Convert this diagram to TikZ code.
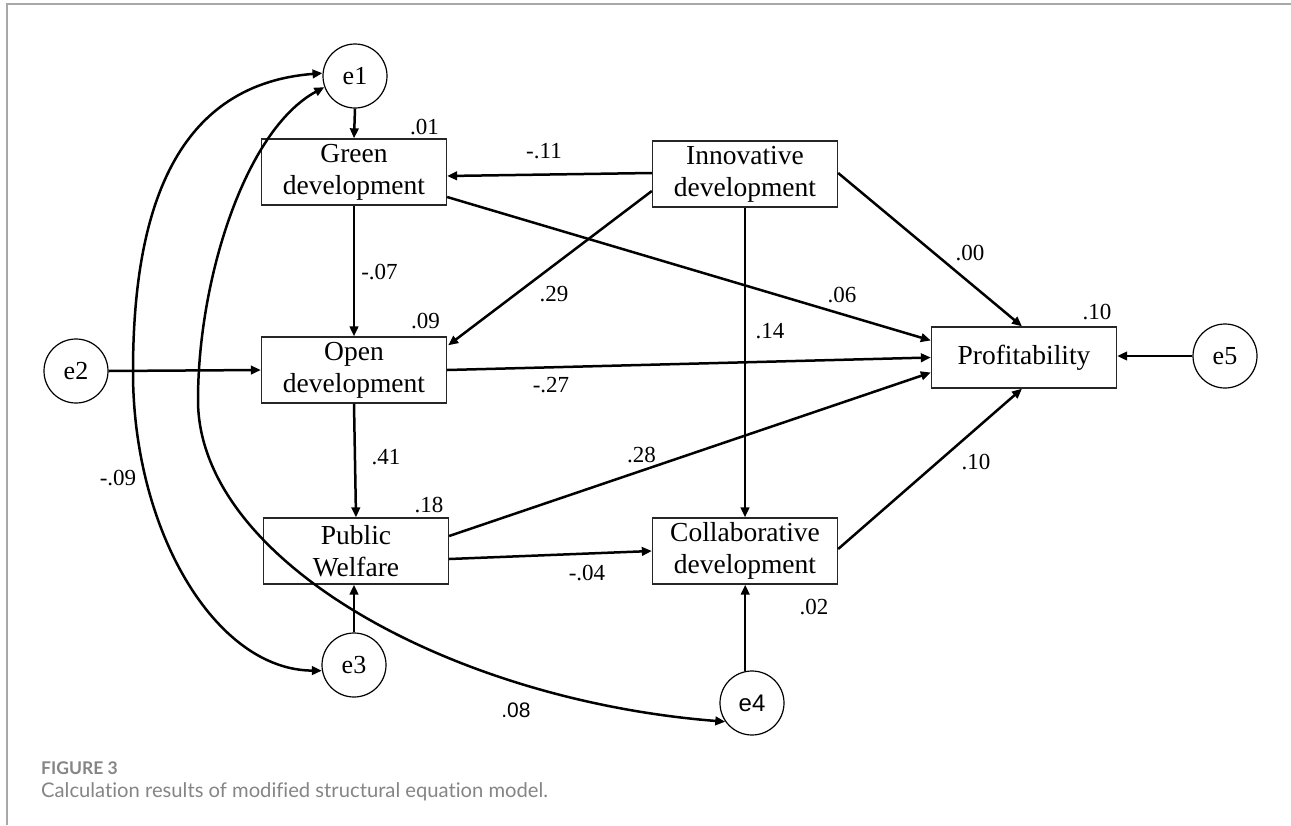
\documentclass[tikz,border=0pt]{standalone}
\usepackage{fontspec}
\setmainfont{Liberation Serif}
\newfontfamily\arialf{Liberation Sans}
\newfontfamily\capf[Ligatures={NoCommon}]{Lato}
\usetikzlibrary{arrows.meta}
\definecolor{capgray}{HTML}{858585}
\definecolor{framegray}{HTML}{A8A8A8}
\begin{document}
\begin{tikzpicture}[x=1pt,y=-1pt,
  box/.style={draw=black!85,line width=1.3pt,minimum width=185pt,minimum height=66pt,inner sep=0pt,align=center,font=\fontsize{27.5}{32}\selectfont},
  err/.style={draw=black,line width=1.2pt,circle,minimum size=64pt,inner sep=0pt,font=\fontsize{26}{30}\selectfont},
  arr/.style={line width=2.5pt,-{Triangle[length=10pt,width=8.5pt]}},
  darr/.style={line width=2.5pt,{Triangle[length=10pt,width=8.5pt]}-{Triangle[length=10pt,width=8.5pt]}},
  lbl/.style={inner sep=0pt,font=\fontsize{23}{26}\selectfont}]
\useasboundingbox (0,0) rectangle (1291,825);
\fill[white] (0,0) rectangle (1291,825);
\draw[framegray,line width=1.5pt] (7,825) -- (7,4) -- (1291,4);

% nodes
\node[box] (green) at (354,172) {Green\\development};
\node[box] (open) at (354,370) {Open\\development};
\node[box] (pub) at (356,551) {Public\\Welfare};
\node[box] (inn) at (745,174) {Innovative\\development};
\node[box] (col) at (745,551) {Collaborative\\development};
\node[box,minimum height=61pt] (prof) at (1024,357.5) {Profitability};
\node[err] (e1) at (355,76) {e1};
\node[err] (e2) at (76,371) {e2};
\node[err] (e3) at (354,665) {e3};
\node[err,font=\arialf\fontsize{24}{28}\selectfont] (e4) at (752,703) {e4};
\node[err] (e5) at (1225,356) {e5};

% straight paths
\draw[arr] (e1.south) -- (green.north);
\draw[arr] ([yshift=1pt]inn.west) -- ([yshift=-4pt]green.east);
\draw[arr] ([yshift=-17pt]inn.west) -- ([xshift=1pt,yshift=-9pt]open.north east);
\draw[arr] ([yshift=-25pt]green.east) -- ([yshift=17pt]prof.west);
\draw[arr] ([yshift=1pt]inn.east) -- ([xshift=-2pt]prof.north);
\draw[arr] (inn.south) -- (col.north);
\draw[arr] (green.south) -- (open.north);
\draw[arr] (e2.east) -- (open.west);
\draw[arr] (open.east) -- (prof.west);
\draw[arr] (open.south) -- (pub.north);
\draw[arr] ([yshift=15pt]pub.east) -- ([yshift=-15pt]prof.west);
\draw[arr] ([yshift=-8pt]pub.east) -- (col.west);
\draw[arr] ([yshift=2pt]col.east) -- ([xshift=-2pt]prof.south);
\draw[arr] (e3.north) -- (e3.north |- pub.south);
\draw[arr] (e4.102) -- (e4.102 |- col.south);
\draw[arr] (e5.west) -- (e5.west -| prof.east);

% covariances
\draw[darr] (e1.175) .. controls (170,85) and (133,220) .. (133,372) .. controls (133,530) and (215,670) .. (e3.190);
\draw[darr] (e1.200) .. controls (245,130) and (198,280) .. (198,400) .. controls (198,560) and (450,700) .. (e4.215);

% labels
\node[lbl] (l01) at (424.5,127) {.01};
\node[lbl] (l09) at (425.5,321) {.09};
\node[lbl] (l18) at (429,505) {.18};
\node[lbl] (l02) at (814,607) {.02};
\node[lbl] (l10a) at (1097,312) {.10};
\node[lbl] (lm11) at (544,151) {-.11};
\node[lbl] (lm07) at (379.5,272) {-.07};
\node[lbl] (l29) at (554,294) {.29};
\node[lbl] (l06) at (842,295) {.06};
\node[lbl] (l00) at (970,253) {.00};
\node[lbl] (l14) at (770,331) {.14};
\node[lbl] (lm27) at (551,385) {-.27};
\node[lbl] (l41) at (386,457) {.41};
\node[lbl] (l28) at (641.5,455) {.28};
\node[lbl] (l10b) at (976,462) {.10};
\node[lbl] (lm04) at (587,573) {-.04};
\node[lbl] (lm09) at (118,478) {-.09};
\node[lbl,font=\arialf\fontsize{21}{24}\selectfont] (l08) at (516,710) {.08};

% caption
\node[anchor=base west,inner sep=0pt,text=capgray,font=\capf\fontsize{17.5}{20}\selectfont\bfseries] (fig) at (41,774) {FIGURE 3};
\node[anchor=base west,inner sep=0pt,text=capgray,font=\capf\fontsize{20.2}{24}\selectfont] (cap) at (41,797) {Calculation results of modified structural equation model.};
\end{tikzpicture}
\end{document}
